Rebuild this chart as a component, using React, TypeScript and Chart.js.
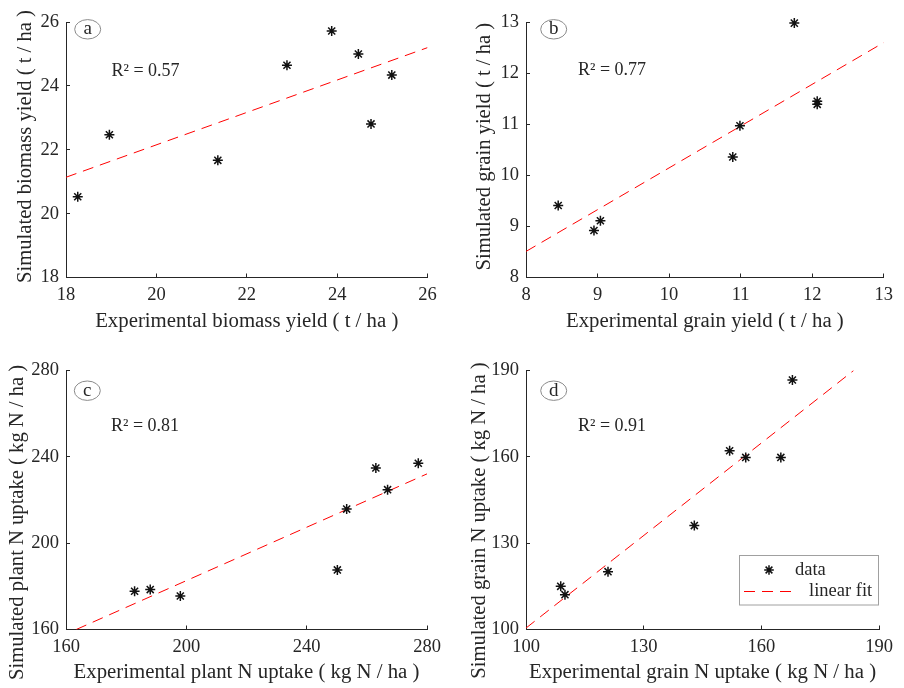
import React, { useEffect, useRef } from "react";
import { Chart, registerables } from "chart.js";

Chart.register(...registerables);

// ---------- data ----------
const biomassExp = [18.26, 18.96, 21.36, 22.89, 23.88, 24.47, 24.75, 25.21];
const biomassSim = [20.53, 22.47, 21.67, 24.65, 25.72, 25.0, 22.81, 24.34];
const biomassFitX = [18, 26];
const biomassFitY = [21.14, 25.2];
const biomassTicks = [18, 20, 22, 24, 26];

const grainExp = [8.45, 8.95, 9.04, 10.89, 10.99, 11.75, 12.07, 12.07];
const grainSim = [9.41, 8.92, 9.11, 10.36, 10.97, 12.98, 11.45, 11.39];
const grainFitX = [8, 13];
const grainFitY = [8.51, 12.6];
const grainTicks = [8, 9, 10, 11, 12, 13];

const plantNExp = [182.8, 188.0, 198.0, 250.2, 253.3, 263.0, 266.9, 277.1];
const plantNSim = [177.7, 178.5, 175.5, 187.6, 215.8, 234.8, 224.8, 237.0];
const plantNFitX = [163.4, 280];
const plantNFitY = [160, 232.1];
const plantNTicks = [160, 200, 240, 280];

const grainNExp = [108.85, 109.93, 120.9, 142.9, 151.9, 156.0, 164.95, 167.9];
const grainNSim = [115.0, 112.1, 120.1, 136.1, 162.1, 159.8, 159.8, 186.7];
const grainNFitX = [100, 183.5];
const grainNFitY = [100.5, 190];
const grainNTicks = [100, 130, 160, 190];

const panelLetters = ["a", "b", "c", "d"];
const r2Labels = ["R² = 0.57", "R² = 0.77", "R² = 0.81", "R² = 0.91"];
const xTitles = [
  "Experimental biomass yield ( t / ha )",
  "Experimental grain yield ( t / ha )",
  "Experimental plant N uptake ( kg N / ha )",
  "Experimental grain N uptake ( kg N / ha )",
];
const yTitles = [
  "Simulated biomass yield ( t / ha )",
  "Simulated grain yield ( t / ha )",
  "Simulated plant N uptake ( kg N / ha )",
  "Simulated grain N uptake ( kg N / ha )",
];
const legendLabels = ["data", "linear fit"];

// ---------- style ----------
const FONT = "'Liberation Serif', 'Times New Roman', serif";
const INK = "#262626";
const MARK = "#111111";
const FIT = "#ff0000";
const W = 452;
const H = 344;

type Layout = {
  left: number;
  right: number;
  top: number;
  bottom: number;
  xTitlePad: number;
  yTitle: [number, number];
  letter: [number, number];
  r2: [number, number];
  legend: boolean;
};

const layouts: Layout[] = [
  { left: 66, right: 427.5, top: 16.5, bottom: 277.5, xTitlePad: 10, yTitle: [25.5, 146.5], letter: [87.7, 29.3], r2: [111.5, 76], legend: false },
  { left: 74, right: 435.5, top: 16.5, bottom: 277.5, xTitlePad: 10, yTitle: [32.2, 146.7], letter: [101.7, 29.3], r2: [126, 75], legend: false },
  { left: 66, right: 427, top: 26.5, bottom: 285.5, xTitlePad: 2.5, yTitle: [17.5, 178.4], letter: [87.3, 46.7], r2: [111, 86.7], legend: false },
  { left: 74, right: 435.5, top: 26.5, bottom: 285.5, xTitlePad: 2.5, yTitle: [27.8, 176.6], letter: [101.7, 46.7], r2: [126, 86.7], legend: true },
];

const panelData = [
  { xs: biomassExp, ys: biomassSim, fx: biomassFitX, fy: biomassFitY, xt: biomassTicks, yt: biomassTicks },
  { xs: grainExp, ys: grainSim, fx: grainFitX, fy: grainFitY, xt: grainTicks, yt: grainTicks },
  { xs: plantNExp, ys: plantNSim, fx: plantNFitX, fy: plantNFitY, xt: plantNTicks, yt: plantNTicks },
  { xs: grainNExp, ys: grainNSim, fx: grainNFitX, fy: grainNFitY, xt: grainNTicks, yt: grainNTicks },
];

function drawStar(ctx: CanvasRenderingContext2D, x: number, y: number, r: number) {
  ctx.beginPath();
  ctx.moveTo(x - r, y);
  ctx.lineTo(x + r, y);
  ctx.moveTo(x, y - r);
  ctx.lineTo(x, y + r);
  const d = r * Math.SQRT1_2;
  ctx.moveTo(x - d, y - d);
  ctx.lineTo(x + d, y + d);
  ctx.moveTo(x - d, y + d);
  ctx.lineTo(x + d, y - d);
  ctx.stroke();
}

const decorPlugin = {
  id: "panelDecor",
  afterDraw(chart: any, _args: any, opts: any) {
    const ctx: CanvasRenderingContext2D = chart.ctx;
    const lay: Layout = layouts[opts.index];
    ctx.save();
    // y axis title
    ctx.fillStyle = INK;
    ctx.font = `20.6px ${FONT}`;
    ctx.textAlign = "center";
    ctx.textBaseline = "middle";
    ctx.translate(lay.yTitle[0], lay.yTitle[1]);
    ctx.rotate(-Math.PI / 2);
    ctx.fillText(yTitles[opts.index], 0, 0);
    ctx.restore();

    ctx.save();
    // letter in ellipse
    ctx.strokeStyle = "#8a8a8a";
    ctx.lineWidth = 1;
    ctx.beginPath();
    ctx.ellipse(lay.letter[0], lay.letter[1], 13, 9.7, 0, 0, Math.PI * 2);
    ctx.stroke();
    ctx.fillStyle = INK;
    ctx.font = `19px ${FONT}`;
    ctx.textAlign = "center";
    ctx.textBaseline = "alphabetic";
    ctx.fillText(panelLetters[opts.index], lay.letter[0], lay.letter[1] + 5);

    // R^2
    ctx.font = `18px ${FONT}`;
    ctx.textAlign = "left";
    ctx.fillText(r2Labels[opts.index], lay.r2[0], lay.r2[1]);

    // legend
    if (lay.legend) {
      const ds = chart.data.datasets;
      ctx.fillStyle = "#ffffff";
      ctx.fillRect(287, 211.5, 139.5, 49.5);
      ctx.strokeStyle = "#a0a0a0";
      ctx.strokeRect(287.5, 211.5, 139, 49.5);
      ctx.strokeStyle = ds[0].borderColor;
      ctx.lineWidth = ds[0].borderWidth;
      drawStar(ctx, 317, 226, 4.8);
      ctx.strokeStyle = ds[1].borderColor;
      ctx.lineWidth = ds[1].borderWidth;
      ctx.setLineDash(ds[1].borderDash);
      ctx.beginPath();
      ctx.moveTo(292, 247.5);
      ctx.lineTo(342, 247.5);
      ctx.stroke();
      ctx.setLineDash([]);
      ctx.fillStyle = INK;
      ctx.font = `18.5px ${FONT}`;
      ctx.textBaseline = "middle";
      ctx.fillText(ds[0].label, 343, 226);
      ctx.fillText(ds[1].label, 357, 247.5);
    }
    ctx.restore();
  },
};

function makeScale(axis: "x" | "y", ticks: number[], size: number, title: string, titlePad: number) {
  return {
    type: "linear",
    position: axis === "x" ? "bottom" : "left",
    min: ticks[0],
    max: ticks[ticks.length - 1],
    afterBuildTicks: (s: any) => {
      s.ticks = ticks.map((v) => ({ value: v }));
    },
    afterFit: (s: any) => {
      if (axis === "x") s.height = size;
      else s.width = size;
    },
    ticks: {
      color: INK,
      font: { family: FONT, size: 18.5 },
      padding: 11,
      maxRotation: 0,
      minRotation: 0,
      autoSkip: false,
    },
    grid: {
      display: true,
      drawOnChartArea: false,
      drawTicks: true,
      tickLength: -4,
      color: INK,
      lineWidth: 1,
    },
    border: { display: true, color: INK, width: 1 },
    title:
      axis === "x"
        ? {
            display: true,
            text: title,
            color: INK,
            font: { family: FONT, size: 20.8 },
            padding: { top: 0, bottom: titlePad },
          }
        : { display: false },
  };
}

function Panel({ index, left, top }: { index: number; left: number; top: number }) {
  const ref = useRef<HTMLCanvasElement>(null);
  useEffect(() => {
    const lay = layouts[index];
    const d = panelData[index];
    const chart = new Chart(ref.current as HTMLCanvasElement, {
      type: "scatter",
      data: {
        datasets: [
          {
            label: legendLabels[0],
            data: d.xs.map((x, i) => ({ x, y: d.ys[i] })),
            pointStyle: "star",
            pointRadius: 5,
            pointHoverRadius: 5,
            borderColor: MARK,
            backgroundColor: MARK,
            borderWidth: 1.5,
            clip: false,
          },
          {
            label: legendLabels[1],
            data: d.fx.map((x, i) => ({ x, y: d.fy[i] })),
            showLine: true,
            pointRadius: 0,
            borderColor: FIT,
            borderWidth: 1,
            borderDash: [11, 7],
            fill: false,
          },
        ],
      } as any,
      options: {
        responsive: false,
        animation: false,
        devicePixelRatio: 1,
        events: [],
        layout: { padding: { left: 0, right: W - lay.right, top: lay.top, bottom: 0 } },
        plugins: {
          legend: { display: false },
          tooltip: { enabled: false },
          panelDecor: { index },
        } as any,
        scales: {
          x: makeScale("x", d.xt, H - lay.bottom, xTitles[index], lay.xTitlePad),
          y: makeScale("y", d.yt, lay.left, yTitles[index], 0),
        } as any,
      },
      plugins: [decorPlugin as any],
    });
    return () => chart.destroy();
  }, [index]);
  return (
    <canvas
      ref={ref}
      width={W}
      height={H}
      style={{ position: "absolute", left, top, width: W, height: H }}
    />
  );
}

export default function App() {
  return (
    <div
      style={{
        position: "absolute",
        left: 0,
        top: 0,
        width: 904,
        height: 688,
        background: "#ffffff",
        overflow: "hidden",
      }}
    >
      <Panel index={0} left={0} top={0} />
      <Panel index={1} left={452} top={0} />
      <Panel index={2} left={0} top={344} />
      <Panel index={3} left={452} top={344} />
    </div>
  );
}
